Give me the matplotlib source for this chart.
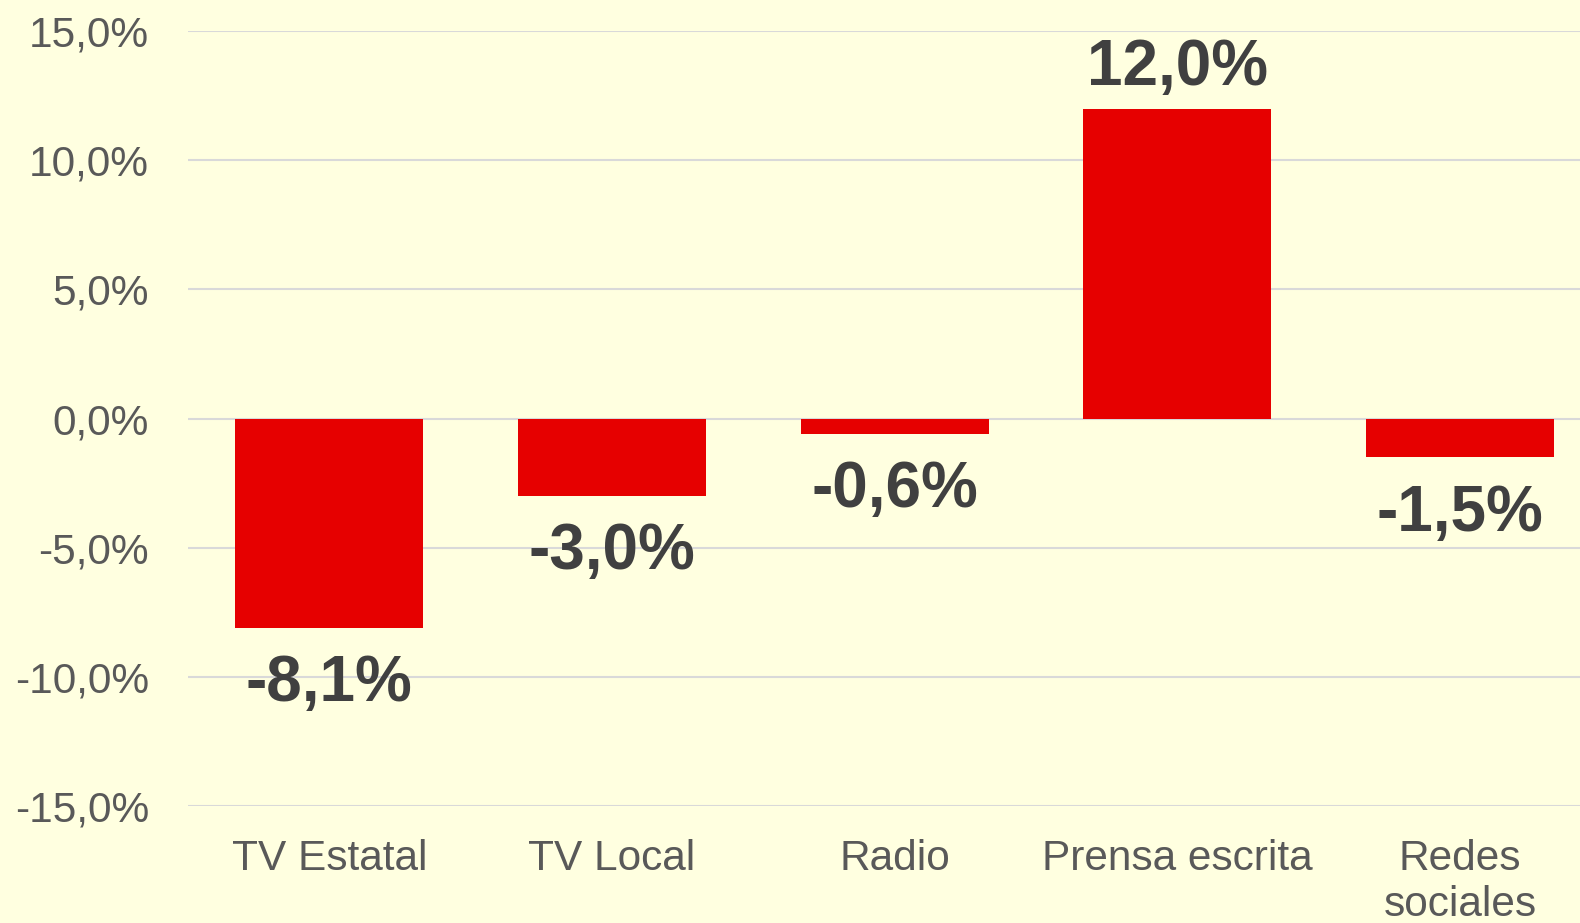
import matplotlib
matplotlib.use("Agg")
import matplotlib.pyplot as plt
from matplotlib.ticker import FuncFormatter

categories = ["TV Estatal", "TV Local", "Radio", "Prensa escrita", "Redes\nsociales"]
values = [-8.1, -3.0, -0.6, 12.0, -1.5]
yticks = [-15, -10, -5, 0, 5, 10, 15]

bg = "#FFFFE0"
plt.rcParams["font.family"] = ["Liberation Sans", "DejaVu Sans"]

fig = plt.figure(figsize=(15.8, 9.23), dpi=100, facecolor=bg)
ax = fig.add_axes([0.119, 0.1268, 0.8945, 0.8394])
ax.set_facecolor(bg)

x = list(range(len(categories)))
ax.bar(x, values, width=0.666, color="#E60000", zorder=3)

def fmt(v):
    return ("%.1f%%" % v).replace(".", ",")

for xi, v in zip(x, values):
    if v >= 0:
        ax.annotate(fmt(v), (xi, v), xytext=(0, 8), textcoords="offset points",
                    ha="center", va="bottom", fontsize=46, fontweight="bold", color="#404040")
    else:
        ax.annotate(fmt(v), (xi, v), xytext=(0, -19), textcoords="offset points",
                    ha="center", va="top", fontsize=46, fontweight="bold", color="#404040")

ax.set_xlim(-0.5, len(categories) - 0.5)
ax.set_ylim(-15, 15)
ax.set_yticks(yticks)
ax.yaxis.set_major_formatter(FuncFormatter(lambda v, p: fmt(v)))
ax.set_xticks(x)
ax.set_xticklabels(categories, linespacing=1.2)
ax.tick_params(axis="both", length=0, labelsize=30.5, colors="#595959")
ax.tick_params(axis="y", pad=28)
ax.tick_params(axis="x", pad=24)
ax.grid(axis="y", color="#D9D9D9", linewidth=1.5, zorder=0)
for s in ax.spines.values():
    s.set_visible(False)

fig.savefig("out.png", dpi=100, facecolor=bg)
